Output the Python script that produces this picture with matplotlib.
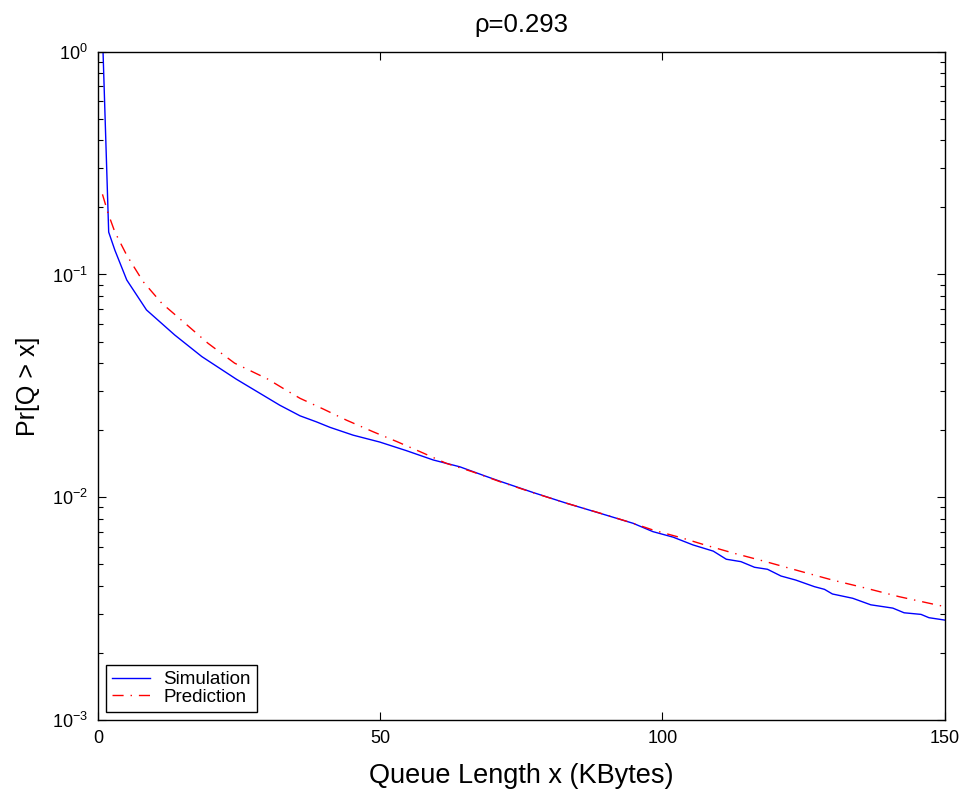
import numpy as np
import matplotlib
matplotlib.use('Agg')
import matplotlib.pyplot as plt

plt.rcParams['font.family'] = ['Liberation Sans', 'DejaVu Sans']
plt.rcParams['mathtext.fontset'] = 'custom'
plt.rcParams['mathtext.rm'] = 'Liberation Sans'
plt.rcParams['mathtext.it'] = 'Liberation Sans:italic'

# simulation curve
sim_x = [0.9, 1.9, 3.0, 5.1, 8.6, 13.6, 18.4, 24.5, 32.2, 35.8, 38.7, 41.1, 45.2,
         49.9, 54.6, 59.4, 64.1, 68.8, 71.2, 77.1, 83.0, 88.9, 94.8, 98.3, 101.9,
         105.4, 109.0, 111.3, 113.9, 116.3, 118.6, 121.0, 123.6, 126.9, 128.7,
         130.1, 133.7, 136.9, 140.8, 142.8, 145.8, 147.2, 150.0]
sim_p = [1.0, 0.155, 0.1285, 0.0945, 0.0693, 0.0535, 0.0428, 0.0339, 0.0259, 0.0232,
         0.0218, 0.0206, 0.0190, 0.0177, 0.0162, 0.0147, 0.0137, 0.0124, 0.0118,
         0.0105, 0.0094, 0.00848, 0.00764, 0.00701, 0.00662, 0.00611, 0.00573,
         0.00527, 0.00514, 0.00485, 0.00475, 0.00443, 0.00425, 0.00397, 0.00386,
         0.00368, 0.00352, 0.00329, 0.00318, 0.00303, 0.00298, 0.00288, 0.00281]

# prediction curve
pred_x = [0.8, 1.8, 3.0, 5.1, 8.0, 11.3, 15.1, 19.5, 24.2, 30.1, 33.1, 35.8, 39.9,
          44.0, 48.7, 52.9, 57.6, 61.7, 66.4, 71.2, 77.0, 83.0, 89.0, 94.8, 98.3,
          103.6, 107.5, 112.4, 118.3, 124.2, 130.1, 136.0, 141.9, 147.8, 150.0]
pred_p = [0.229, 0.188, 0.155, 0.122, 0.0929, 0.0743, 0.0614, 0.0491, 0.040, 0.0339,
          0.0305, 0.0278, 0.0249, 0.0222, 0.0197, 0.0178, 0.0158, 0.0142, 0.0130,
          0.01175, 0.0105, 0.0094, 0.00848, 0.00764, 0.00713, 0.00655, 0.00611,
          0.00563, 0.00514, 0.00467, 0.00425, 0.00391, 0.00358, 0.00332, 0.00323]

fig = plt.figure(figsize=(9.66, 7.98), dpi=100)
ax = fig.add_axes([0.1014, 0.0977, 0.8766, 0.8375])

ax.semilogy(sim_x, sim_p, color='blue', lw=1.0, label='Simulation')
ax.semilogy(pred_x, pred_p, color='red', lw=1.0, linestyle=(0, (8, 5, 1, 5)),
            label='Prediction')

ax.set_xlim(0, 150)
ax.set_ylim(1e-3, 1)
ax.set_xticks([0, 50, 100, 150])
ax.tick_params(which='both', direction='in', top=True, right=True,
               labelsize=13, colors='black')
ax.tick_params(which='major', length=6, width=0.8, pad=7)
ax.tick_params(which='minor', length=3.5, width=0.8)
ax.tick_params(axis='x', which='minor', bottom=False, top=False)
for s in ax.spines.values():
    s.set_linewidth(1.0)

ax.set_title('ρ=0.293', fontsize=18.5, pad=14)
ax.set_xlabel('Queue Length x (KBytes)', fontsize=19.5, labelpad=12)
ax.set_ylabel('Pr[Q > x]', fontsize=18, labelpad=9)

leg = ax.legend(loc='lower left', fontsize=13.5, fancybox=False, framealpha=1,
                edgecolor='black', borderaxespad=0.45, handlelength=2.0,
                borderpad=0.32, labelspacing=0.0, handletextpad=0.7)
leg.get_frame().set_linewidth(1.0)

fig.savefig('out.png', dpi=100)
